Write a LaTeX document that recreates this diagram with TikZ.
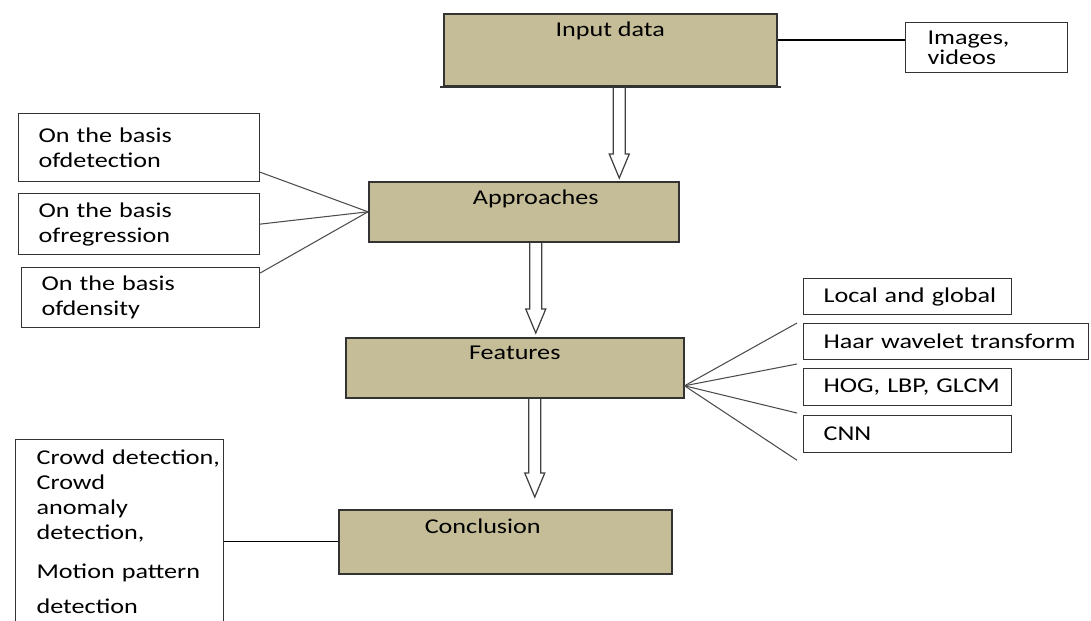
\documentclass[tikz,border=0pt]{standalone}
\usepackage{fontspec}
\setmainfont{Carlito}[FakeStretch=1.24]
\usetikzlibrary{calc}
\definecolor{boxtan}{RGB}{196,189,151}
\newcommand{\hollowarrow}[2]{%
  \draw[hollow] ($(#1)+(-6,0)$) -- ($(#2)+(-6,-24)$) -- ($(#2)+(-10,-24)$) -- (#2)
    -- ($(#2)+(10,-24)$) -- ($(#2)+(6,-24)$) -- ($(#1)+(6,0)$);}

\begin{document}
\begin{tikzpicture}[x=0.02cm, y=-0.02cm,
    every node/.style={font=\fontsize{12}{14.2}\selectfont},
    mainbox/.style={draw=black!80, line width=0.9pt, fill=boxtan, anchor=north west, inner sep=0pt},
    boxtext/.style={anchor=north, inner sep=0pt, yshift=-0.18cm},
    sidebox/.style={draw=black!80, line width=0.7pt, anchor=north west, align=left, inner xsep=0.4cm, inner ysep=0pt},
    link/.style={draw=black!70, line width=0.6pt},
    hollow/.style={draw=black!75, line width=0.7pt}]
  \useasboundingbox (0,0) rectangle (1091,620);
  \clip (0,0) rectangle (1091,620);

  % main column
  \node[mainbox, minimum width=6.66cm, minimum height=1.44cm, label={[boxtext]north:Input data}] (inp) at (443,13) {};
  \node[mainbox, minimum width=6.2cm, minimum height=1.2cm, label={[boxtext, xshift=0.24cm]north:Approaches}] (appr) at (368,181) {};
  \node[mainbox, minimum width=6.76cm, minimum height=1.2cm, label={[boxtext]north:Features}] (feat) at (345,337) {};
  \node[mainbox, minimum width=6.66cm, minimum height=1.28cm, label={[boxtext, xshift=-0.45cm]north:Conclusion}] (conc) at (338,509) {};
  \draw[line width=1.2pt, black!80] ($(inp.south west)+(-3,0)$) -- ($(inp.south east)+(3,0)$);

  % side boxes
  \node[sidebox, inner xsep=0.44cm, text width=2.36cm, minimum height=1cm] (img) at (905,22) {Images,\\[-0.1cm]videos};
  \node[sidebox, text width=4.02cm, minimum height=1.36cm] (det) at (18,113) {On the basis\\ofdetection};
  \node[sidebox, text width=4.02cm, minimum height=1.22cm] (reg) at (18,193) {On the basis\\ofregression};
  \node[sidebox, text width=3.96cm, minimum height=1.2cm] (dens) at (21,267) {On the basis\\ofdensity};
  \node[sidebox, text width=3.36cm, minimum height=0.72cm] (local) at (803,278) {\mbox{Local and global}};
  \node[sidebox, text width=4.9cm, minimum height=0.72cm] (haar) at (803,323) {\mbox{Haar wavelet transform}};
  \node[sidebox, text width=3.36cm, minimum height=0.74cm] (hog) at (803,368) {\mbox{HOG, LBP, GLCM}};
  \node[sidebox, text width=3.36cm, minimum height=0.74cm] (cnn) at (803,415) {CNN};
  \node[sidebox, inner xsep=0.42cm, text width=3.32cm, minimum height=3.68cm] (crowd) at (15,439)
    {\mbox{Crowd detection,}\\Crowd\\anomaly\\detection,\\[0.28cm]\mbox{Motion pattern}\\[0.2cm]detection};

  % connectors
  \coordinate (inpr) at ($(inp.north east)+(0,27)$);
  \draw[line width=1.1pt] (inpr) -- (inpr -| img.west);
  \draw[link] ($(det.south east)+(0,-10)$) -- (appr.west);
  \draw[link] (reg.east) -- (appr.west);
  \draw[link] ($(dens.north east)+(0,6)$) -- (appr.west);
  \coordinate (fo) at ($(feat.east)+(0,18)$);
  \coordinate (f1) at ($(haar.north west)+(-6,0)$);
  \coordinate (f2) at ($(hog.north west)+(-6,-4)$);
  \coordinate (f3) at ($(cnn.north west)+(-6,-2)$);
  \coordinate (f4) at ($(cnn.south west)+(-6,7)$);
  \foreach \f in {f1,f2,f3,f4}
    \draw[link] (fo) -- (\f);
  \draw[line width=0.7pt] (conc.west) -- (conc.west -| crowd.east);

  % hollow arrows
  \coordinate (a1) at ($(inp.south)+(9,0)$);
  \coordinate (a1t) at ($(a1 |- appr.north)+(0,-3)$);
  \coordinate (a2) at ($(appr.south)+(12,0)$);
  \coordinate (a2t) at ($(a2 |- feat.north)+(0,-4)$);
  \coordinate (a3) at ($(feat.south)+(20,0)$);
  \coordinate (a3t) at ($(a3 |- conc.north)+(0,-12)$);
  \hollowarrow{a1}{a1t}
  \hollowarrow{a2}{a2t}
  \hollowarrow{a3}{a3t}
\end{tikzpicture}
\end{document}
